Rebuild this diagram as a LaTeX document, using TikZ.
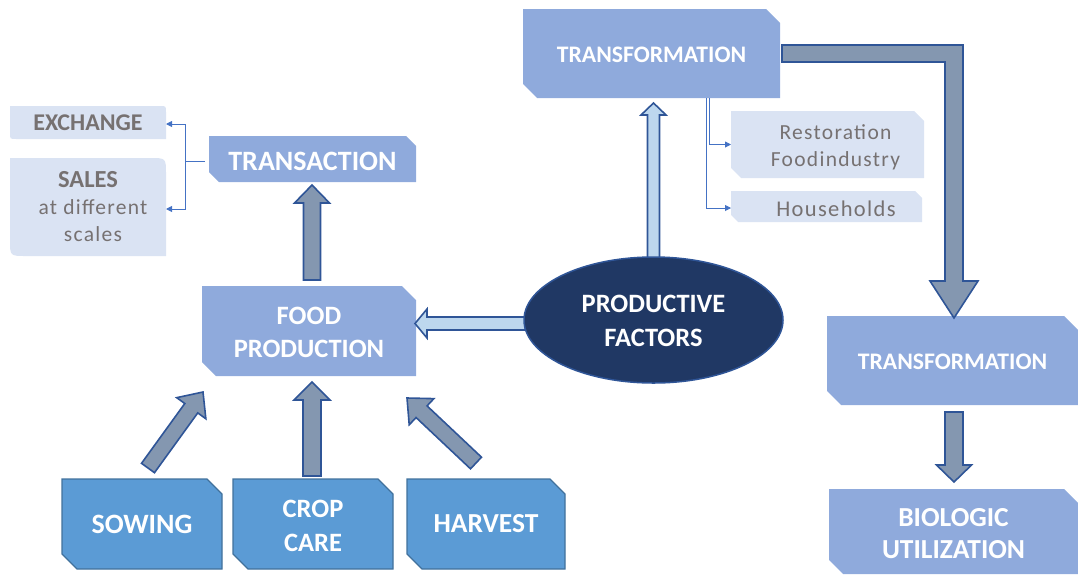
\documentclass[tikz,border=0pt]{standalone}
\usepackage{fontspec}
\setmainfont{Carlito}
\usetikzlibrary{shapes.geometric,calc,backgrounds,arrows.meta}

\definecolor{boxmid}{HTML}{8FAADC}
\definecolor{boxlight}{HTML}{DAE3F3}
\definecolor{boxdark}{HTML}{5B9BD5}
\definecolor{boxdarkedge}{HTML}{41719C}
\definecolor{arrowfill}{HTML}{8497B0}
\definecolor{arrowedge}{HTML}{2F5597}
\definecolor{arrowlight}{HTML}{BDD7EE}
\definecolor{factorfill}{HTML}{203864}
\definecolor{connblue}{HTML}{4472C4}
\definecolor{softgray}{HTML}{767171}

% invisible strut that pushes the first text line down inside its box
\newcommand\lift[1]{\rule{0pt}{#1}}
% rectangle with the top-right and bottom-left corners snipped off
\newcommand\snipfill[3]{%
  \path[#3] (#1.north west) -- ($(#1.north east)+(-#2,0)$) -- ($(#1.north east)+(0,#2)$)
    -- (#1.south east) -- ($(#1.south west)+(#2,0)$) -- ($(#1.south west)+(0,-#2)$) -- cycle;}
% rectangle with the top-right and bottom-left corners rounded
\newcommand\roundfill[3]{%
  \path[#3] (#1.north west) -- ($(#1.north east)+(-#2,0)$) .. controls (#1.north east) .. ($(#1.north east)+(0,#2)$)
    -- (#1.south east) -- ($(#1.south west)+(#2,0)$) .. controls (#1.south west) .. ($(#1.south west)+(0,-#2)$) -- cycle;}
% straight block arrow: start, end, half shaft, half head, head length, style
\newcommand\blockarrow[6]{%
  \coordinate (bah) at ($(#2)!#5!(#1)$);
  \path[#6] ($(#1)!#3!90:(#2)$) -- ($(bah)!#3!90:(#2)$) -- ($(bah)!#4!90:(#2)$) -- (#2)
    -- ($(bah)!#4!-90:(#2)$) -- ($(bah)!#3!-90:(#2)$) -- ($(#1)!#3!-90:(#2)$) -- cycle;}

\begin{document}
\begin{tikzpicture}[x=1pt,y=-1pt,
  box/.style={rectangle, inner sep=0pt, outer sep=0pt, align=center},
  midbox/.style={box, text=white, font=\bfseries\fontsize{26.5}{33}\selectfont},
  darkbox/.style={box, text=white, font=\bfseries\fontsize{27.5}{34}\selectfont},
  lightbox/.style={box, text=softgray, font=\fontsize{21.5}{27}\selectfont\addfontfeatures{LetterSpace=6}},
  darkarrow/.style={fill=arrowfill, draw=arrowedge, line width=1.6pt, line join=miter},
  lightarrow/.style={fill=arrowlight, draw=arrowedge, line width=1.6pt, line join=miter},
  conn/.style={draw=connblue, line width=0.9pt, -{Triangle[length=6pt,width=6pt]}},
  ]
\useasboundingbox (0,0) rectangle (1078,574);

% ---- left column: trading
\node[lightbox, minimum width=156, minimum height=33, font=\bfseries\fontsize{24}{27}\selectfont] (exch) at (88,122.5) {EXCHANGE};
\node[lightbox, minimum width=156, minimum height=98] (sales) at (88,207)
  {{\bfseries\addfontfeatures{LetterSpace=0}\fontsize{24.5}{28}\selectfont SALES}\\\hspace*{10pt}at different\\\hspace*{10pt}scales};
\node[midbox, minimum width=207, minimum height=46, font=\bfseries\fontsize{28}{33}\selectfont] (trans) at (312.5,159) {\lift{24pt}TRANSACTION};

% ---- food production and its inputs
\node[midbox, minimum width=214, minimum height=90] (food) at (309,331) {\lift{21pt}FOOD\\PRODUCTION};
\node[darkbox, minimum width=160, minimum height=90, font=\bfseries\fontsize{28}{34}\selectfont] (sow) at (142,524) {SOWING};
\node[darkbox, minimum width=160, minimum height=90, font=\bfseries\fontsize{26.5}{34}\selectfont] (crop) at (313,524) {\lift{21pt}CROP\\CARE};
\node[darkbox, minimum width=158, minimum height=90] (harv) at (486,524) {HARVEST};

% ---- productive factors
\node[ellipse, inner sep=0pt, minimum width=259, minimum height=126, fill=factorfill, draw=arrowedge,
  line width=1.5pt, text=white, align=center, font=\bfseries\fontsize{26.5}{34}\selectfont] (prod) at (653.5,320)
  {\lift{19pt}PRODUCTIVE\\FACTORS};

% ---- transformation chain
\node[midbox, minimum width=257, minimum height=89, font=\bfseries\fontsize{23.7}{28}\selectfont] (tf1) at (651.5,53.5) {\lift{19pt}TRANSFORMATION};
\node[lightbox, minimum width=193, minimum height=67] (rest) at (827.5,144.5) {\lift{21pt}\hspace*{16pt}Restoration\\\hspace*{16pt}Foodindustry};
\node[lightbox, minimum width=191, minimum height=31, font=\fontsize{22.5}{27}\selectfont\addfontfeatures{LetterSpace=6}] (house) at (826.5,206.5) {\lift{19.5pt}\hspace*{19pt}Households};
\node[midbox, minimum width=251, minimum height=89, font=\bfseries\fontsize{23.7}{28}\selectfont] (tf2) at (952.5,360.5) {\lift{19pt}TRANSFORMATION};
\node[midbox, minimum width=249, minimum height=85, font=\bfseries\fontsize{27.5}{32}\selectfont] (bio) at (953.5,531.5) {\lift{23pt}BIOLOGIC\\UTILIZATION};

% ---- end points of the block arrows
\coordinate (fs) at ($(food.north)+(3,-6)$);
\coordinate (te) at ($(trans.south)+(-0.5,3)$);
\coordinate (cs) at ($(crop.north)+(-1,-3)$);
\coordinate (ce) at ($(food.south)+(3,6)$);
\coordinate (ss) at ($(sow.north)+(6,-11)$);
\coordinate (se) at ($(food.south west)+(1,16)$);
\coordinate (hs) at ($(harv.north)+(-10,-16)$);
\coordinate (he) at ($(food.south east)+(-9,22)$);
\coordinate (ps) at ($(prod.west)+(2,3.5)$);
\coordinate (pe) at ($(food.east)+(-1,-7.5)$);
\coordinate (ts) at ($(prod.north)+(0,4)$);
\coordinate (tt) at ($(tf1.south)+(2,5)$);
\coordinate (bs) at ($(tf1.east)+(2,0)$);
\coordinate (be) at ($(tf2.north)+(1.5,2)$);
\coordinate (us) at ($(tf2.south)+(1.5,7)$);
\coordinate (ue) at ($(bio.north)+(0.5,-7)$);

\begin{scope}[on background layer]
  % box fills
  \roundfill{exch}{6}{fill=boxlight}
  \roundfill{sales}{16}{fill=boxlight}
  \snipfill{trans}{10}{fill=boxmid}
  \snipfill{food}{14}{fill=boxmid}
  \snipfill{tf1}{14}{fill=boxmid}
  \snipfill{rest}{10}{fill=boxlight}
  \snipfill{house}{7}{fill=boxlight}
  \snipfill{tf2}{14}{fill=boxmid}
  \snipfill{bio}{14}{fill=boxmid}
  \snipfill{sow}{15}{fill=boxdark, draw=boxdarkedge, line width=1.3pt}
  \snipfill{crop}{15}{fill=boxdark, draw=boxdarkedge, line width=1.3pt}
  \snipfill{harv}{15}{fill=boxdark, draw=boxdarkedge, line width=1.3pt}
  % block arrows
  \blockarrow{fs}{te}{8.5pt}{17.5pt}{18pt}{darkarrow}
  \blockarrow{cs}{ce}{9pt}{18pt}{18pt}{darkarrow}
  \blockarrow{ss}{se}{8pt}{18pt}{20pt}{darkarrow}
  \blockarrow{hs}{he}{8pt}{18pt}{20pt}{darkarrow}
  \blockarrow{ps}{pe}{6.5pt}{14.5pt}{12pt}{lightarrow}
  \blockarrow{ts}{tt}{6pt}{12.5pt}{12pt}{lightarrow}
  \blockarrow{us}{ue}{9pt}{17.5pt}{17pt}{darkarrow}
  % bent arrow from the first to the second transformation
  \path[darkarrow] ($(bs)+(0,-8.5)$) -- ($(bs -| be)+(9,-8.5)$) -- ($(be)+(9,-37)$) -- ($(be)+(24,-37)$)
    -- (be) -- ($(be)+(-24,-37)$) -- ($(be)+(-9,-37)$) -- ($(bs -| be)+(-9,8.5)$) -- ($(bs)+(0,8.5)$) -- cycle;
\end{scope}

% ---- thin connectors
\coordinate (tj) at (185,161);
\draw[draw=connblue, line width=0.9pt] ($(trans.west)+(-4,2)$) -- (tj);
\draw[conn] (tj) |- ($(exch.east)+(0,1.5)$);
\draw[conn] (tj) |- ($(sales.east)+(0,2)$);
\draw[conn] ($(tf1.south)+(57.5,0)$) |- (rest.west);
\draw[conn] ($(tf1.south)+(54.5,0)$) |- ($(house.west)+(0,1.5)$);
\end{tikzpicture}
\end{document}
